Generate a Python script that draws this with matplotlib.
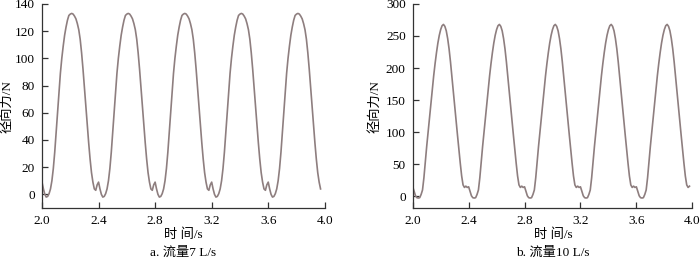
import numpy as np
import matplotlib
matplotlib.use("Agg")
from matplotlib import pyplot as plt

plt.rcParams['font.family'] = ['Liberation Serif', 'Noto Sans CJK SC']
plt.rcParams['axes.unicode_minus'] = False

phase = [0.00, 0.01, 0.02, 0.03, 0.04, 0.05, 0.06, 0.07, 0.08, 0.09,
         0.10, 0.11, 0.12, 0.13, 0.14, 0.15, 0.16, 0.17, 0.18, 0.19,
         0.20, 0.21, 0.22, 0.23, 0.24, 0.25, 0.26, 0.27, 0.28, 0.29,
         0.30, 0.31, 0.32, 0.33, 0.34, 0.35, 0.36, 0.37, 0.38, 0.39]

# a. flow 7 L/s
cycle_a = [9, 4, 0, -2, -1.5, 0.5, 4, 10, 19, 31,
           45, 60, 75, 89, 100, 109, 117, 123, 128, 131.5,
           132.5, 133, 132.5, 131, 129, 125.5, 121, 114, 104, 92,
           79, 65, 51, 38, 26, 16, 9, 4, 3, 7]

# b. flow 10 L/s
cycle_b = [15, 8, 1, -2, -2.5, -2, 3, 10, 29, 54,
           78, 100, 122, 145, 167, 188, 207, 224, 239, 251,
           260, 266, 268, 265, 258, 246, 230, 210, 187, 164,
           141, 118, 96, 74, 52, 32, 18, 14, 16, 14]

n_cycles = 5
t_end_a = 3.97
t_end_b = 3.98

t_all = np.concatenate([2.0 + 0.4 * k + np.array(phase) for k in range(n_cycles)])
f_a = np.tile(cycle_a, n_cycles)
f_b = np.tile(cycle_b, n_cycles)
mask_a = t_all <= t_end_a + 1e-9
mask_b = t_all <= t_end_b + 1e-9

line_color = '#8e7e7f'

fig = plt.figure(figsize=(7, 2.59), dpi=100)

panels = [
    dict(rect=[0.060, 0.197, 0.404, 0.788], t=t_all[mask_a], f=f_a[mask_a],
         ylim=(-10, 140), yticks=range(0, 141, 20),
         caption='a. 流量7 L/s', ylab_x=0.010, cx=0.262),
    dict(rect=[0.5896, 0.197, 0.3994, 0.788], t=t_all[mask_b], f=f_b[mask_b],
         ylim=(-18, 300), yticks=range(0, 301, 50),
         caption='b. 流量10 L/s', ylab_x=0.536, cx=0.790),
]

for p in panels:
    ax = fig.add_axes(p['rect'])
    ax.plot(p['t'], p['f'], color=line_color, lw=1.2)
    ax.set_xlim(2.0, 4.0)
    ax.set_ylim(*p['ylim'])
    ax.set_xticks([2.0, 2.4, 2.8, 3.2, 3.6, 4.0])
    ax.set_xticklabels(['2.0', '2.4', '2.8', '3.2', '3.6', '4.0'])
    ax.set_yticks(list(p['yticks']))
    ax.spines['top'].set_visible(False)
    ax.spines['right'].set_visible(False)
    for s in ['left', 'bottom']:
        ax.spines[s].set_color('#333333')
        ax.spines[s].set_linewidth(0.9)
    ax.spines['left'].set_bounds(p['ylim'][0], p['yticks'][-1])
    ax.tick_params(direction='in', length=4, width=0.9, color='#333333',
                   labelsize=9.5, pad=5)
    fig.text(p['cx'], 0.093, '时 间/s', ha='center', va='center', fontsize=9.5)
    fig.text(p['cx'], 0.023, p['caption'], ha='center', va='center', fontsize=9.5)
    fig.text(p['ylab_x'], 0.587, '径向力/N', ha='center', va='center',
             rotation=90, fontsize=9.5)

fig.savefig('out.png', dpi=100)
